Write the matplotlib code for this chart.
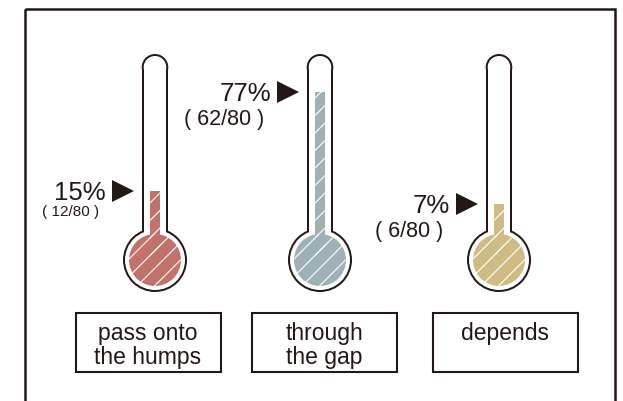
import numpy as np
import matplotlib
matplotlib.use("Agg")
import matplotlib.pyplot as plt
from matplotlib.patches import Rectangle, Circle

# ---- data ----
categories = ["pass onto\nthe humps", "through\nthe gap", "depends"]
counts = [12, 62, 6]
total = 80
percents = [15, 77, 7]
fractions = ["( 12/80 )", "( 62/80 )", "( 6/80 )"]

# ---- style ----
INK = "#231815"
fill_colors = ["#c0726b", "#9fb0b6", "#cebc84"]
frac_sizes = [11, 15.5, 15.5]
plt.rcParams["font.family"] = ["Liberation Sans", "DejaVu Sans"]

fig = plt.figure(figsize=(6.23, 4.02), dpi=100)
ax = fig.add_axes([0, 0, 1, 1])
ax.set_xlim(0, 623)
ax.set_ylim(402, 0)
ax.axis("off")

# outer frame (bottom edge runs off the canvas)
ax.add_patch(Rectangle((25, 10), 590, 420, fill=False, edgecolor=INK, lw=1.8))

# thermometer geometry (canvas units)
centers = [155, 320, 499]
box_centers = [148, 324, 505]
tube_top = 56          # level for 100 %
level_zero = 216       # level for 0 %
tube_half = 13.3
wall = 2.0
bulb_y = 261
bulb_r = 32
fill_half = 5.2
fill_r = 26
stripe_step = 17.5     # horizontal distance between hatch stripes


def level(p):
    return level_zero - (level_zero - tube_top) * p / 100.0


def tube(cx, half, top, color, z):
    cap_y = top + half
    ax.add_patch(Rectangle((cx - half, cap_y), 2 * half, bulb_y - cap_y,
                           facecolor=color, edgecolor="none", zorder=z))
    ax.add_patch(Circle((cx, cap_y), half, facecolor=color,
                        edgecolor="none", zorder=z))


def stripes(patch, cx):
    # white 45-degree stripes, clipped to the liquid shape
    for k in np.arange(-12, 13):
        x0 = cx + k * stripe_step
        xs = np.array([x0 - 200, x0 + 200])
        ys = bulb_y + 8 - (xs - x0)
        ln, = ax.plot(xs, ys, color="white", lw=0.8, zorder=5,
                      solid_capstyle="butt")
        ln.set_clip_path(patch)


for i, cx in enumerate(centers):
    # outline: dark shape with a white shape inset by the wall thickness
    tube(cx, tube_half, tube_top - 1, INK, 2)
    ax.add_patch(Circle((cx, bulb_y), bulb_r, facecolor=INK,
                        edgecolor="none", zorder=2))
    tube(cx, tube_half - wall, tube_top - 1 + wall, "white", 3)
    ax.add_patch(Circle((cx, bulb_y), bulb_r - wall, facecolor="white",
                        edgecolor="none", zorder=3))

    # coloured liquid
    top = level(percents[i])
    col = Rectangle((cx - fill_half, top), 2 * fill_half, bulb_y - top,
                    facecolor=fill_colors[i], edgecolor="none", zorder=4)
    bulb = Circle((cx, bulb_y), fill_r, facecolor=fill_colors[i],
                  edgecolor="none", zorder=4)
    ax.add_patch(col)
    ax.add_patch(bulb)
    stripes(col, cx)
    stripes(bulb, cx)

    # pointer and value labels
    ax_x = cx - 32
    ax.plot([ax_x], [top], marker=">", ms=16, color=INK, mew=0, zorder=6)
    txt_right = ax_x - 17
    ax.text(txt_right, top + 8.5, f"{percents[i]}%", ha="right",
            va="baseline", fontsize=18.5, color=INK)
    frac_dy = 24 if frac_sizes[i] < 13 else 32
    ax.text(txt_right - 7, top + frac_dy, fractions[i], ha="right",
            va="baseline", fontsize=frac_sizes[i], color=INK)

    # category box
    bx = box_centers[i]
    ax.add_patch(Rectangle((bx - 72.5, 314), 145, 59, fill=False,
                           edgecolor=INK, lw=1.5))
    for j, line in enumerate(categories[i].split("\n")):
        ax.text(bx, 340 + j * 24.5, line, ha="center", va="baseline",
                fontsize=16.5, color=INK)

fig.savefig("out.png", dpi=100)
